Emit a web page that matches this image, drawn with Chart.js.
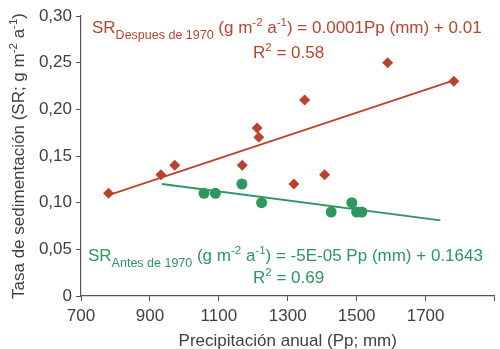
<!DOCTYPE html>
<html>
<head>
<meta charset="utf-8">
<script src="https://cdn.jsdelivr.net/npm/chart.js@4"></script>
<style>
  html, body { margin: 0; padding: 0; background: #ffffff; }
  #wrap { width: 500px; height: 349px; }
</style>
</head>
<body>
<div id="wrap"><canvas id="chart"></canvas></div>
<script>
// Datos
const despuesX = [780, 932, 972, 1168, 1211, 1216, 1349, 1318, 1407, 1590, 1782];
const despuesY = [0.11, 0.13, 0.14, 0.14, 0.18, 0.17, 0.21, 0.12, 0.13, 0.25, 0.23];
const antesX   = [1057, 1090, 1167, 1224, 1426, 1486, 1500, 1515];
const antesY   = [0.11, 0.11, 0.12, 0.10, 0.09, 0.10, 0.09, 0.09];
// extremos de las rectas de tendencia
const trendDespuesX = [780, 1782];
const trendDespuesY = [0.108, 0.231];
const trendAntesX   = [935, 1743];
const trendAntesY   = [0.120, 0.081];

const xTicks = [700, 900, 1100, 1300, 1500, 1700];

const RED   = '#b8432f';
const GREEN = '#2e9660';
const TEXT  = '#404040';
const FONT  = '"Liberation Sans", Arial, sans-serif';

const toPts = (xs, ys) => xs.map((x, i) => ({ x, y: ys[i] }));

// dibuja texto con subíndices / superíndices
function richText(ctx, x, y, parts, color) {
    ctx.fillStyle = color;
    ctx.textBaseline = 'alphabetic';
    ctx.textAlign = 'left';
    parts.forEach(p => {
        let size = 17, dy = 0;
        if (p.sub) { size = 12.5; dy = 6; }
        if (p.sup) { size = 11.5; dy = -7; }
        ctx.font = `${size}px ${FONT}`;
        ctx.fillText(p.t, x, y + dy);
        x += ctx.measureText(p.t).width;
    });
    return x;
}

const annotationsPlugin = {
    id: 'annotations',
    afterDraw(chart) {
        const { ctx, chartArea } = chart;
        const L = chartArea.left;
        ctx.save();
        richText(ctx, L + 11, 33, [
            { t: 'SR' }, { t: 'Despues de 1970', sub: true }, { t: ' (g m' }, { t: '-2', sup: true },
            { t: ' a' }, { t: '-1', sup: true }, { t: ') = 0.0001Pp (mm) + 0.01' }
        ], RED);
        richText(ctx, 253, 58, [{ t: 'R' }, { t: '2', sup: true }, { t: ' = 0.58' }], RED);

        richText(ctx, L + 7, 261, [
            { t: 'SR' }, { t: 'Antes de 1970', sub: true }, { t: ' (g m' }, { t: '-2', sup: true },
            { t: ' a' }, { t: '-1', sup: true }, { t: ') = -5E-05 Pp (mm) + 0.1643' }
        ], GREEN);
        richText(ctx, 253, 283, [{ t: 'R' }, { t: '2', sup: true }, { t: ' = 0.69' }], GREEN);

        // título del eje Y (rotado)
        const parts = [
            { t: 'Tasa de sedimentación (SR; g m' }, { t: '-2', sup: true },
            { t: ' a' }, { t: '-1', sup: true }, { t: ')' }
        ];
        let w = 0;
        parts.forEach(p => {
            ctx.font = `${p.sup ? 11.5 : 17}px ${FONT}`;
            w += ctx.measureText(p.t).width;
        });
        const cy = (chartArea.top + chartArea.bottom) / 2;
        ctx.translate(24, cy);
        ctx.rotate(-Math.PI / 2);
        let x = -w / 2;
        ctx.fillStyle = TEXT;
        parts.forEach(p => {
            ctx.font = `${p.sup ? 11.5 : 17}px ${FONT}`;
            ctx.fillText(p.t, x, p.sup ? -7 : 0);
            x += ctx.measureText(p.t).width;
        });
        ctx.restore();
    }
};

new Chart(document.getElementById('chart').getContext('2d'), {
    type: 'scatter',
    plugins: [annotationsPlugin],
    data: {
        datasets: [
            { data: toPts(despuesX, despuesY), pointStyle: 'rectRot', pointRadius: 5.5,
              backgroundColor: RED, borderColor: RED, borderWidth: 0 },
            { data: toPts(antesX, antesY), pointStyle: 'circle', pointRadius: 5.5,
              backgroundColor: GREEN, borderColor: GREEN, borderWidth: 0 },
            { data: toPts(trendDespuesX, trendDespuesY), showLine: true, pointRadius: 0,
              borderColor: RED, borderWidth: 1.8 },
            { data: toPts(trendAntesX, trendAntesY), showLine: true, pointRadius: 0,
              borderColor: GREEN, borderWidth: 1.8 }
        ]
    },
    options: {
        responsive: true,
        maintainAspectRatio: false,
        animation: false,
        layout: { padding: { top: 16, right: 3, left: 0, bottom: 0 } },
        plugins: { legend: { display: false }, tooltip: { enabled: false } },
        scales: {
            x: {
                type: 'linear',
                min: 700, max: 1900,
                afterBuildTicks: s => { s.ticks = xTicks.concat([1900]).map(v => ({ value: v })); },
                afterFit: s => { s.height = 53; },
                border: { color: '#555555', width: 1.2 },
                grid: { drawOnChartArea: false, tickLength: 5, color: '#555555' },
                ticks: {
                    color: TEXT, font: { family: FONT, size: 17 }, padding: 5,
                    callback: v => (v === 1900 ? '' : v)
                },
                title: {
                    display: true, text: 'Precipitación anual (Pp; mm)', color: TEXT,
                    font: { family: FONT, size: 17 }, padding: { top: 0, bottom: -3 }
                }
            },
            y: {
                min: 0, max: 0.30,
                afterFit: s => { s.width = 81; },
                border: { color: '#555555', width: 1.2 },
                grid: { drawOnChartArea: false, tickLength: 5, color: '#555555' },
                ticks: {
                    stepSize: 0.05, color: TEXT, font: { family: FONT, size: 17 }, padding: 4,
                    callback: v => (v === 0 ? '0' : v.toFixed(2).replace('.', ','))
                }
            }
        }
    }
});
</script>
</body>
</html>
